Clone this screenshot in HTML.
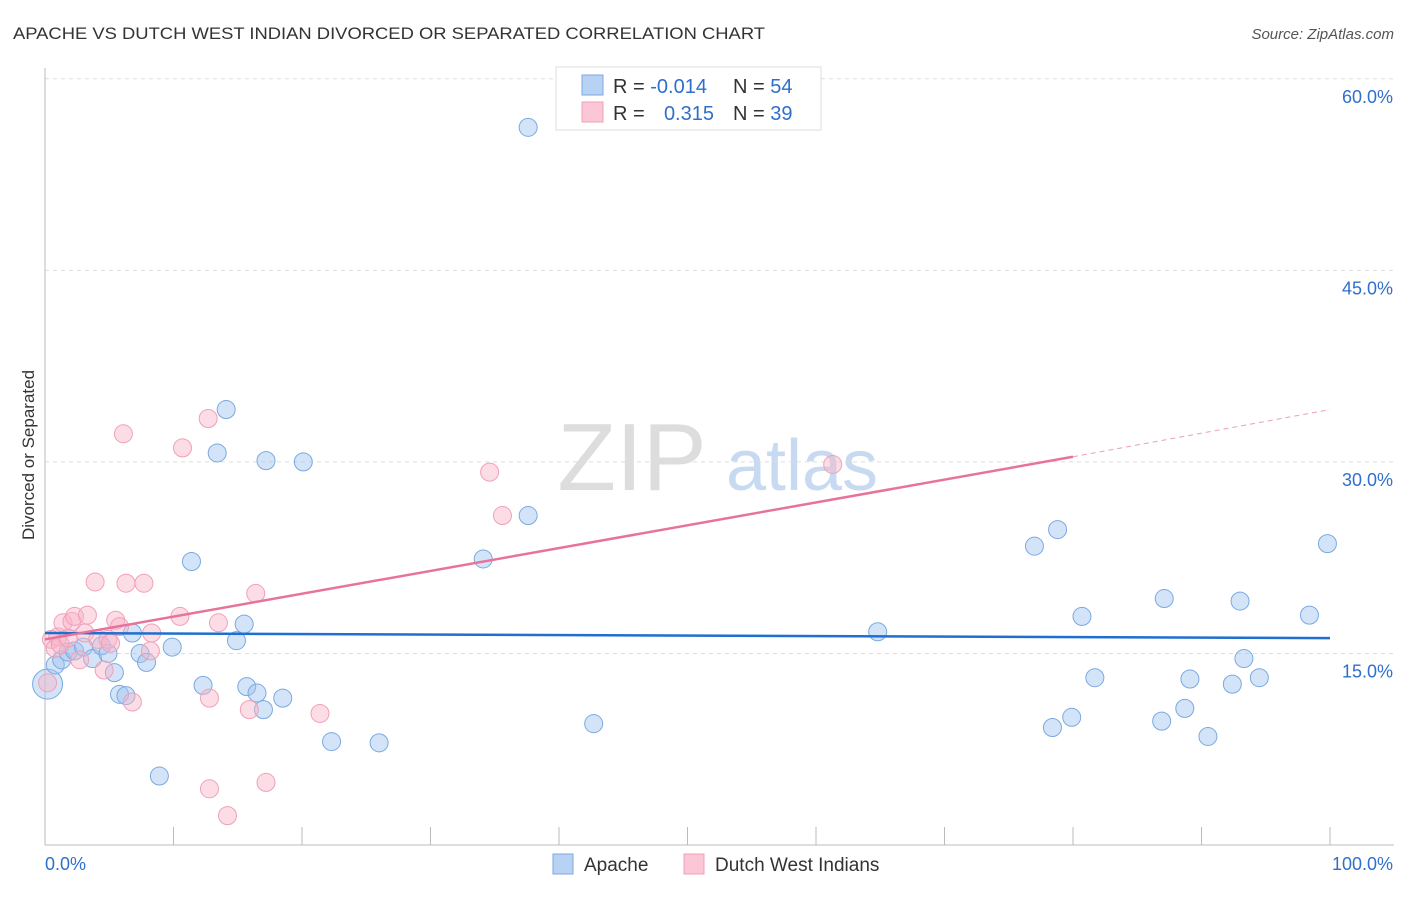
<!DOCTYPE html>
<html><head><meta charset="utf-8"><style>
body{margin:0;background:#fff;font-family:"Liberation Sans",sans-serif;}
svg text{font-family:"Liberation Sans",sans-serif;}
</style></head><body>
<svg id="chart" width="1406" height="892" xmlns="http://www.w3.org/2000/svg">
<text x="13" y="39" font-size="17" fill="#333" textLength="752" lengthAdjust="spacingAndGlyphs">APACHE VS DUTCH WEST INDIAN DIVORCED OR SEPARATED CORRELATION CHART</text>
<text x="1394" y="39" font-size="15" fill="#555" font-style="italic" text-anchor="end">Source: ZipAtlas.com</text>
<g>
<text x="632" y="490" font-size="96" fill="#ddd" font-family="Liberation Serif" text-anchor="middle">ZIP</text>
<text x="802" y="490" font-size="72" fill="#c8daf2" text-anchor="middle">atlas</text>
</g>
<g id="grid"></g>
<g id="axes"></g>
<g id="pts"></g>
<g id="lines"></g>
<text x="34" y="455" font-size="17" fill="#333" transform="rotate(-90 34 455)" text-anchor="middle">Divorced or Separated</text>
<g>
<rect x="556" y="67" width="265" height="63" fill="#fff" stroke="#ddd"/>
<rect x="582" y="75" width="21" height="20" fill="#b8d2f4" stroke="#7aa9e0"/>
<rect x="582" y="102" width="21" height="20" fill="#fbc6d6" stroke="#f0a0b8"/>
<text x="613" y="93" font-size="20" fill="#333">R = <tspan fill="#2f6fcc">-0.014</tspan></text>
<text x="733" y="93" font-size="20" fill="#333">N = <tspan fill="#2f6fcc">54</tspan></text>
<text x="613" y="120" font-size="20" fill="#333">R = </text>
<text x="714" y="120" font-size="20" fill="#2f6fcc" text-anchor="end">0.315</text>
<text x="733" y="120" font-size="20" fill="#333">N = <tspan fill="#2f6fcc">39</tspan></text>
</g>
<g>
<rect x="553" y="854" width="20" height="20" fill="#b8d2f4" stroke="#7aa9e0"/>
<text x="584" y="871" font-size="19" fill="#333">Apache</text>
<rect x="684" y="854" width="20" height="20" fill="#fbc6d6" stroke="#f0a0b8"/>
<text x="715" y="871" font-size="19" fill="#333">Dutch West Indians</text>
</g>
</svg>
<script>
const yTicks=[15,30,45,60];
const yTickLabels=["15.0%","30.0%","45.0%","60.0%"];
const apacheX=[0.2,0.8,1.3,1.8,2.3,3.0,3.7,4.4,4.9,5.4,5.8,6.3,6.8,7.4,7.9,8.9,9.9,11.4,12.3,13.4,14.1,14.9,15.5,15.7,16.5,17.0,17.2,18.5,20.1,22.3,26.0,34.1,37.6,37.6,42.7,64.8,77.0,78.4,78.8,79.9,80.7,81.7,86.9,87.1,88.7,89.1,90.5,92.4,93.0,93.3,94.5,98.4,99.8];
const apacheY=[12.6,14.1,14.5,15.1,15.2,15.5,14.6,15.6,15.0,13.5,11.8,11.7,16.6,15.0,14.3,5.4,15.5,22.2,12.5,30.7,34.1,16.0,17.3,12.4,11.9,10.6,30.1,11.5,30.0,8.1,8.0,22.4,56.2,25.8,9.5,16.7,23.4,9.2,24.7,10.0,17.9,13.1,9.7,19.3,10.7,13.0,8.5,12.6,19.1,14.6,13.1,18.0,23.6];
const dutchX=[0.2,0.5,0.8,1.0,1.2,1.4,1.8,2.1,2.3,2.7,3.1,3.3,3.9,4.1,4.6,4.9,5.1,5.5,5.8,6.1,6.3,6.8,7.7,8.2,8.3,10.5,10.7,12.7,12.8,12.8,13.5,14.2,15.9,16.4,17.2,21.4,34.6,35.6,61.3];
const dutchY=[12.7,16.1,15.4,16.3,15.7,17.4,16.2,17.5,17.9,14.5,16.6,18.0,20.6,16.1,13.7,16.1,15.8,17.6,17.1,32.2,20.5,11.2,20.5,15.2,16.6,17.9,31.1,33.4,11.5,4.4,17.4,2.3,10.6,19.7,4.9,10.3,29.2,25.8,29.8];
const apacheTrend=[16.6,16.2];
const dutchTrend=[16.1,30.4,34.1];
const X0=45,X1=1330,Y0=845,PXY=12.77;
const sx=v=>X0+(X1-X0)*v/100, sy=v=>Y0-v*PXY;
const NS="http://www.w3.org/2000/svg";
function mk(t,a,p){const e=document.createElementNS(NS,t);for(const k in a)e.setAttribute(k,a[k]);p.appendChild(e);return e;}
const grid=document.getElementById('grid'),axes=document.getElementById('axes'),pts=document.getElementById('pts'),lines=document.getElementById('lines');
yTicks.forEach((t,i)=>{
 const l=mk('line',{x1:X0,x2:1394,y1:sy(t),y2:sy(t),stroke:'#ddd','stroke-dasharray':'4 4'},grid);
 
 
 const tx=mk('text',{x:1393,y:sy(t)+24,'font-size':18,fill:'#2f6fcc','text-anchor':'end'},axes);
 tx.textContent=yTickLabels[i];
 
 
});
mk('line',{x1:X0,x2:X0,y1:68,y2:Y0,stroke:'#bbb'},axes);
mk('line',{x1:X0,x2:1394,y1:Y0,y2:Y0,stroke:'#bbb'},axes);
for(let i=0;i<=10;i++){const t=mk('line',{x1:sx(i*10),x2:sx(i*10),y1:Y0-18,y2:Y0,stroke:'#bbb'},axes);
 
 }
const xl=mk('text',{x:45,y:870,'font-size':18,fill:'#2f6fcc'},axes);xl.textContent='0.0%';


const xr=mk('text',{x:1393,y:870,'font-size':18,fill:'#2f6fcc','text-anchor':'end'},axes);xr.textContent='100.0%';


apacheX.forEach((x,i)=>{const c=mk('circle',{cx:sx(x),cy:sy(apacheY[i]),r:i===0?15:9,fill:'rgba(160,196,240,0.45)',stroke:'#7aa9e0','stroke-width':1},pts);
 
 });
dutchX.forEach((x,i)=>{const c=mk('circle',{cx:sx(x),cy:sy(dutchY[i]),r:9,fill:'rgba(248,180,200,0.45)',stroke:'#f0a0b8','stroke-width':1},pts);
 
 });
const bl=mk('line',{x1:sx(0),y1:sy(apacheTrend[0]),x2:sx(100),y2:sy(apacheTrend[1]),stroke:'#1f6fd0','stroke-width':2.5},lines);


const pl=mk('line',{x1:sx(0),y1:sy(dutchTrend[0]),x2:sx(80),y2:sy(dutchTrend[1]),stroke:'#e8739a','stroke-width':2.5},lines);


const pd=mk('line',{x1:sx(80),y1:sy(dutchTrend[1]),x2:sx(100),y2:sy(dutchTrend[2]),stroke:'#e8a0b8','stroke-width':1,'stroke-dasharray':'5 4'},lines);


</script>
</body></html>
